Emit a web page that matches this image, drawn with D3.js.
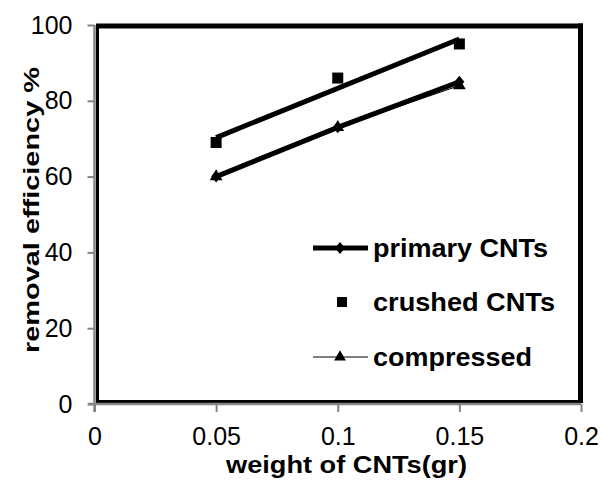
<!DOCTYPE html>
<html>
<head>
<meta charset="utf-8">
<script src="https://cdn.jsdelivr.net/npm/d3@7"></script>
<style>
  body { margin: 0; background: #fff; }
  text { font-family: "Liberation Sans", Arial, sans-serif; fill: #000; }
</style>
</head>
<body>
<svg id="chart" width="602" height="480"></svg>
<script>
// weights of CNTs (gr)
const weights = [0.05, 0.1, 0.15];
// removal efficiency %
const primary = [60, 73, 85];
const crushed = [69, 86, 95];
const compressed = [60, 73, 84];
// linear trendline of crushed series (end points)
const trendX = [0.05, 0.15];
const trendY = [70.3, 96.3];

const xTicks = [0, 0.05, 0.1, 0.15, 0.2];
const yTicks = [0, 20, 40, 60, 80, 100];

const svg = d3.select("#chart");

const x = d3.scaleLinear().domain([0, 0.2]).range([94.5, 581]);
const y = d3.scaleLinear().domain([0, 100]).range([404, 25]);

// black plot frame
svg.append("line").attr("x1", 96).attr("x2", 583).attr("y1", 26).attr("y2", 26)
  .attr("stroke", "#000").attr("stroke-width", 5);
svg.append("line").attr("x1", 580.5).attr("x2", 580.5).attr("y1", 23.5).attr("y2", 403)
  .attr("stroke", "#000").attr("stroke-width", 5);
svg.append("line").attr("x1", 97.5).attr("x2", 97.5).attr("y1", 24).attr("y2", 403)
  .attr("stroke", "#000").attr("stroke-width", 3);
svg.append("line").attr("x1", 96).attr("x2", 582).attr("y1", 401.5).attr("y2", 401.5)
  .attr("stroke", "#000").attr("stroke-width", 3);

// gray axes
const gray = "#858585";
const xAxis = svg.append("g").attr("transform", "translate(0,404)")
  .call(d3.axisBottom(x).tickValues(xTicks).tickSize(8).tickPadding(15)
    .tickFormat(d => d3.format("")(d)));
const yAxis = svg.append("g").attr("transform", "translate(94.5,0)")
  .call(d3.axisLeft(y).tickValues(yTicks).tickSize(7).tickPadding(15));
[xAxis, yAxis].forEach(g => {
  g.select(".domain").attr("stroke", gray).attr("stroke-width", 2.5);
  g.selectAll(".tick line").attr("stroke", gray).attr("stroke-width", 2);
  g.selectAll(".tick text").style("font-size", "25px").attr("fill", "#000");
});
xAxis.select(".domain").attr("d", "M88,0H581");
yAxis.select(".domain").attr("d", "M0,25V412");

// axis titles
svg.append("text").attr("x", 226).attr("y", 473)
  .attr("textLength", 241).attr("lengthAdjust", "spacingAndGlyphs")
  .style("font-size", "23px").style("font-weight", "bold")
  .text("weight of CNTs(gr)");
svg.append("text").attr("transform", "translate(39,353) rotate(-90)")
  .attr("textLength", 286).attr("lengthAdjust", "spacingAndGlyphs")
  .style("font-size", "22px").style("font-weight", "bold")
  .text("removal efficiency %");

const line = d3.line().x(d => x(d[0])).y(d => y(d[1]));

// compressed (thin line)
svg.append("path").datum(d3.zip(weights, compressed)).attr("d", line)
  .attr("fill", "none").attr("stroke", "#000").attr("stroke-width", 1);
// crushed trendline
svg.append("path").datum(d3.zip(trendX, trendY)).attr("d", line)
  .attr("fill", "none").attr("stroke", "#000").attr("stroke-width", 5);
// primary (thick line)
svg.append("path").datum(d3.zip(weights, primary)).attr("d", line)
  .attr("fill", "none").attr("stroke", "#000").attr("stroke-width", 5);

const sym = (type, size) => d3.symbol().type(type).size(size)();
const diamond = "M0,-6L5,0L0,6L-5,0Z";

svg.selectAll(".tri").data(d3.zip(weights, compressed)).enter().append("path")
  .attr("transform", d => `translate(${x(d[0])},${y(d[1])})`)
  .attr("d", sym(d3.symbolTriangle, 70)).attr("fill", "#000");
svg.selectAll(".dia").data(d3.zip(weights, primary)).enter().append("path")
  .attr("transform", d => `translate(${x(d[0])},${y(d[1])})`)
  .attr("d", diamond).attr("fill", "#000");
svg.selectAll(".sq").data(d3.zip(weights, crushed)).enter().append("rect")
  .attr("x", d => x(d[0]) - 5.5).attr("y", d => y(d[1]) - 5.5)
  .attr("width", 11).attr("height", 11).attr("fill", "#000");

// legend
const legend = svg.append("g");
const rows = [
  { label: "primary CNTs", y: 248, stroke: 5, marker: "dia", len: 175 },
  { label: "crushed CNTs", y: 302, stroke: 0, marker: "sq", len: 182 },
  { label: "compressed", y: 357, stroke: 1, marker: "tri", len: 159 }
];
rows.forEach(r => {
  if (r.stroke > 0) {
    legend.append("line").attr("x1", 313).attr("x2", 368).attr("y1", r.y).attr("y2", r.y)
      .attr("stroke", "#000").attr("stroke-width", r.stroke);
  }
  if (r.marker === "dia") {
    legend.append("path").attr("transform", `translate(340,${r.y})`).attr("d", diamond);
  } else if (r.marker === "sq") {
    legend.append("rect").attr("x", 337).attr("y", r.y - 5).attr("width", 10).attr("height", 10);
  } else {
    legend.append("path").attr("transform", `translate(340,${r.y})`).attr("d", sym(d3.symbolTriangle, 60));
  }
  legend.append("text").attr("x", 373).attr("y", r.y + 9)
    .attr("textLength", r.len).attr("lengthAdjust", "spacingAndGlyphs")
    .style("font-size", "25px").style("font-weight", "bold").text(r.label);
});
</script>
</body>
</html>
